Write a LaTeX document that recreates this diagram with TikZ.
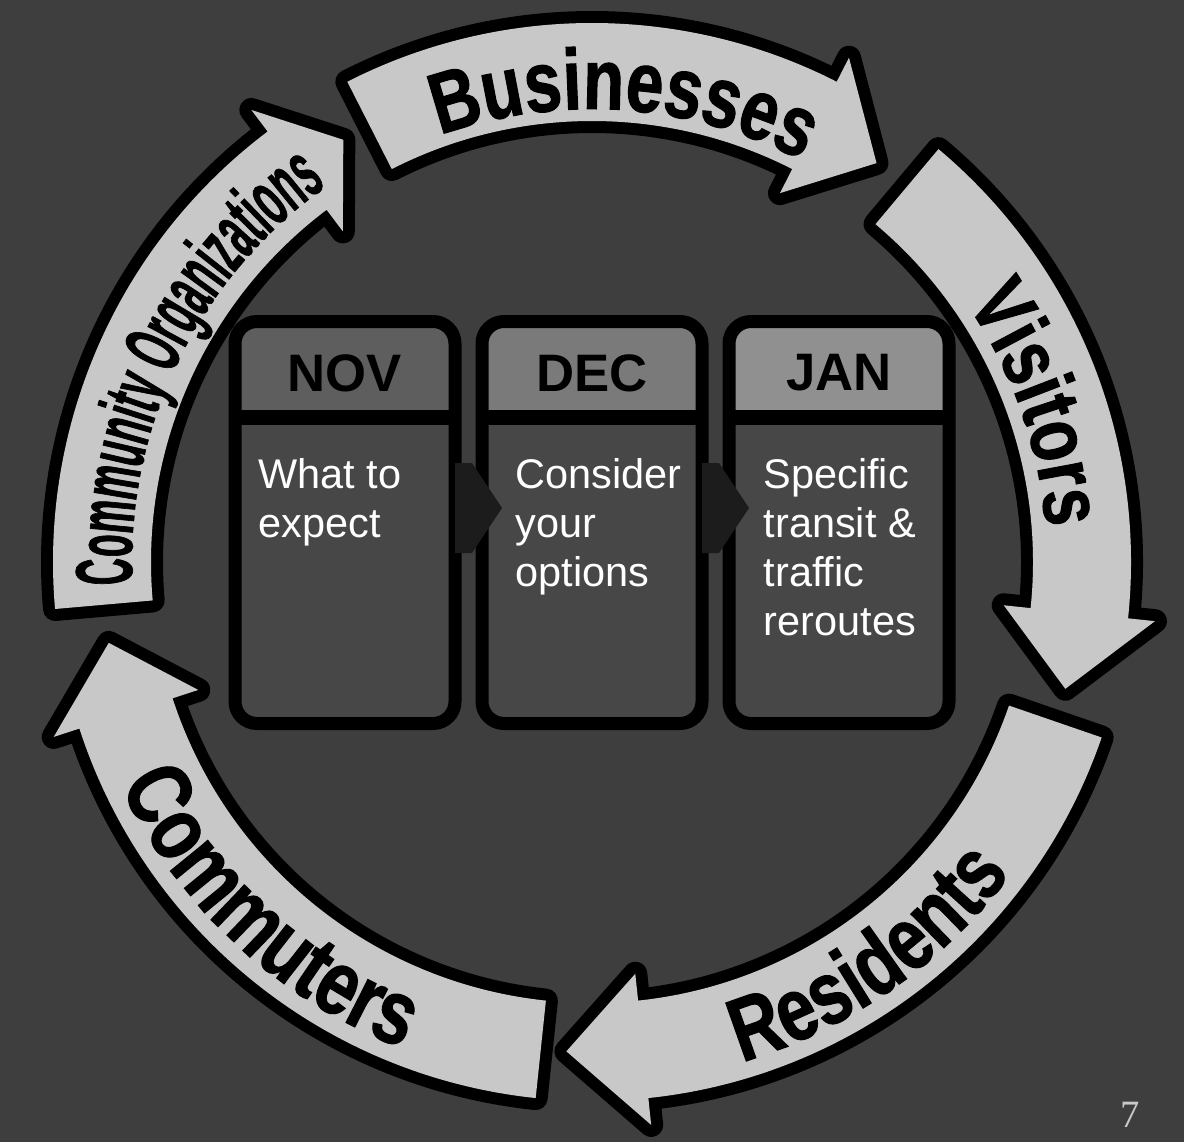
\documentclass[tikz,border=0pt]{standalone}
\usepackage{fontspec}
\setmainfont{Liberation Sans}
\newfontfamily\bandfont[FakeStretch=0.78,FakeBold=1.2]{Liberation Sans}
\newfontfamily\orgfont[FakeStretch=0.46,FakeBold=0.8]{Liberation Sans}
\newfontfamily\pagefont{Liberation Serif}
\usetikzlibrary{decorations.text}
\definecolor{backgray}{HTML}{3E3E3E}
\definecolor{bandgray}{HTML}{C8C8C8}
\definecolor{bodygray}{HTML}{474747}
\definecolor{novgray}{HTML}{5E5E5E}
\definecolor{decgray}{HTML}{7A7A7A}
\definecolor{jangray}{HTML}{909090}
\definecolor{chevgray}{HTML}{1C1C1C}
\definecolor{pagegray}{HTML}{C8C8C8}
\tikzset{
  band/.style={fill=bandgray,preaction={draw=black,line width=0.24cm,line join=round}},
  monthbox/.style={draw=black,line width=0.13cm,rounded corners=0.22cm,outer sep=0pt,inner sep=0pt,
    minimum width=2.20cm,minimum height=4.02cm,fill=bodygray,
    path picture={\fill[#1] (path picture bounding box.north west) rectangle ([yshift=-0.96cm]path picture bounding box.north east);}},
  sepline/.style={draw=black,line width=0.15cm},
  headtext/.style={inner sep=0pt,text=black,font=\bfseries\fontsize{15}{18}\selectfont},
  bodytext/.style={anchor=north west,inner sep=0pt,align=left,text=white,font=\fontsize{11.8}{13.9}\selectfont},
  chevron/.style={fill=chevgray},
  pagenum/.style={inner sep=0pt,text=pagegray,font=\pagefont\fontsize{11}{13}\selectfont}
}
\begin{document}
\begin{tikzpicture}
\useasboundingbox (0,0) rectangle (11.84,11.42);
\fill[backgray] (0,0) rectangle (11.84,11.42);
% Ring of five clockwise arrows around one centre.
\begin{scope}[shift={(5.92,5.80)}]
\path[band] (185:5.39) arc[start angle=185,end angle=127,radius=5.39] -- (127:5.66) -- (120.5:4.90) -- (127:4.14) -- (127:4.41) arc[start angle=127,end angle=185,radius=4.41] -- cycle;
\path[band] (117:5.39) arc[start angle=117,end angle=63,radius=5.39] -- (63:5.66) -- (54.5:4.90) -- (63:4.14) -- (63:4.41) arc[start angle=63,end angle=117,radius=4.41] -- cycle;
\path[band] (50:5.39) arc[start angle=50,end angle=-6,radius=5.39] -- (-6:5.66) -- (-15:4.90) -- (-6:4.14) -- (-6:4.41) arc[start angle=-6,end angle=50,radius=4.41] -- cycle;
\path[band] (-19:5.39) arc[start angle=-19,end angle=-84,radius=5.39] -- (-84:5.66) -- (-93:4.90) -- (-84:4.14) -- (-84:4.41) arc[start angle=-84,end angle=-19,radius=4.41] -- cycle;
\path[band] (264:5.39) arc[start angle=264,end angle=198,radius=5.39] -- (198:5.66) -- (189.5:4.90) -- (198:4.14) -- (198:4.41) arc[start angle=198,end angle=264,radius=4.41] -- cycle;
% Labels follow the ring; the lower two read the other way round.
\path[decorate,decoration={text along path,text align=center,text={|\orgfont\bfseries\fontsize{23}{23}\selectfont|Community Organizations}}] (188:4.60) arc[start angle=188,end angle=120,radius=4.60];
\path[decorate,decoration={text along path,text align=center,text={|\bandfont\bfseries\fontsize{24.5}{24.5}\selectfont|Businesses}}] (116:4.53) arc[start angle=116,end angle=56,radius=4.53];
\path[decorate,decoration={text along path,text align=center,text={|\bandfont\bfseries\fontsize{24}{24}\selectfont|Visitors}}] (42:4.55) arc[start angle=42,end angle=-3,radius=4.55];
\path[decorate,decoration={text along path,text align=center,text={|\bandfont\bfseries\fontsize{25.5}{25.5}\selectfont|Residents}}] (-85:5.22) arc[start angle=-85,end angle=-25,radius=5.22];
\path[decorate,decoration={text along path,text align=center,text={|\bandfont\bfseries\fontsize{26}{26}\selectfont|Commuters}}] (197:5.22) arc[start angle=197,end angle=257,radius=5.22];
\end{scope}
% Month boxes.
\node[monthbox=novgray] (nov) at (3.45,6.195) {};
\node[monthbox=decgray] (dec) at (5.92,6.195) {};
\node[monthbox=jangray] (jan) at (8.39,6.195) {};
\draw[sepline] ([yshift=-0.96cm]nov.north west) -- ([yshift=-0.96cm]nov.north east);
\draw[sepline] ([yshift=-0.96cm]dec.north west) -- ([yshift=-0.96cm]dec.north east);
\draw[sepline] ([yshift=-0.96cm]jan.north west) -- ([yshift=-0.96cm]jan.north east);
\node[headtext] (novhead) at ([yshift=-0.515cm]nov.north) {NOV};
\node[headtext] (dechead) at ([yshift=-0.515cm]dec.north) {DEC};
\node[headtext] (janhead) at ([yshift=-0.515cm]jan.north) {JAN};
\node[bodytext] (novtext) at ([xshift=0.23cm,yshift=-1.365cm]nov.north west) {What to\\expect};
\node[bodytext] (dectext) at ([xshift=0.33cm,yshift=-1.365cm]dec.north west) {Consider\\your\\options};
\node[bodytext] (jantext) at ([xshift=0.34cm,yshift=-1.365cm]jan.north west) {Specific\\transit \&\\traffic\\reroutes};
% Dark pointers from one box into the next.
\fill[chevron] ([yshift=0.595cm]nov.east) -- ([xshift=-0.10cm,yshift=0.595cm]dec.west) -- ([xshift=0.20cm,yshift=0.145cm]dec.west) -- ([xshift=-0.10cm,yshift=-0.305cm]dec.west) -- ([yshift=-0.305cm]nov.east) -- cycle;
\fill[chevron] ([yshift=0.595cm]dec.east) -- ([xshift=-0.10cm,yshift=0.595cm]jan.west) -- ([xshift=0.20cm,yshift=0.145cm]jan.west) -- ([xshift=-0.10cm,yshift=-0.305cm]jan.west) -- ([yshift=-0.305cm]dec.east) -- cycle;
\node[pagenum] (pageno) at (11.30,0.27) {7};
\end{tikzpicture}
\end{document}
